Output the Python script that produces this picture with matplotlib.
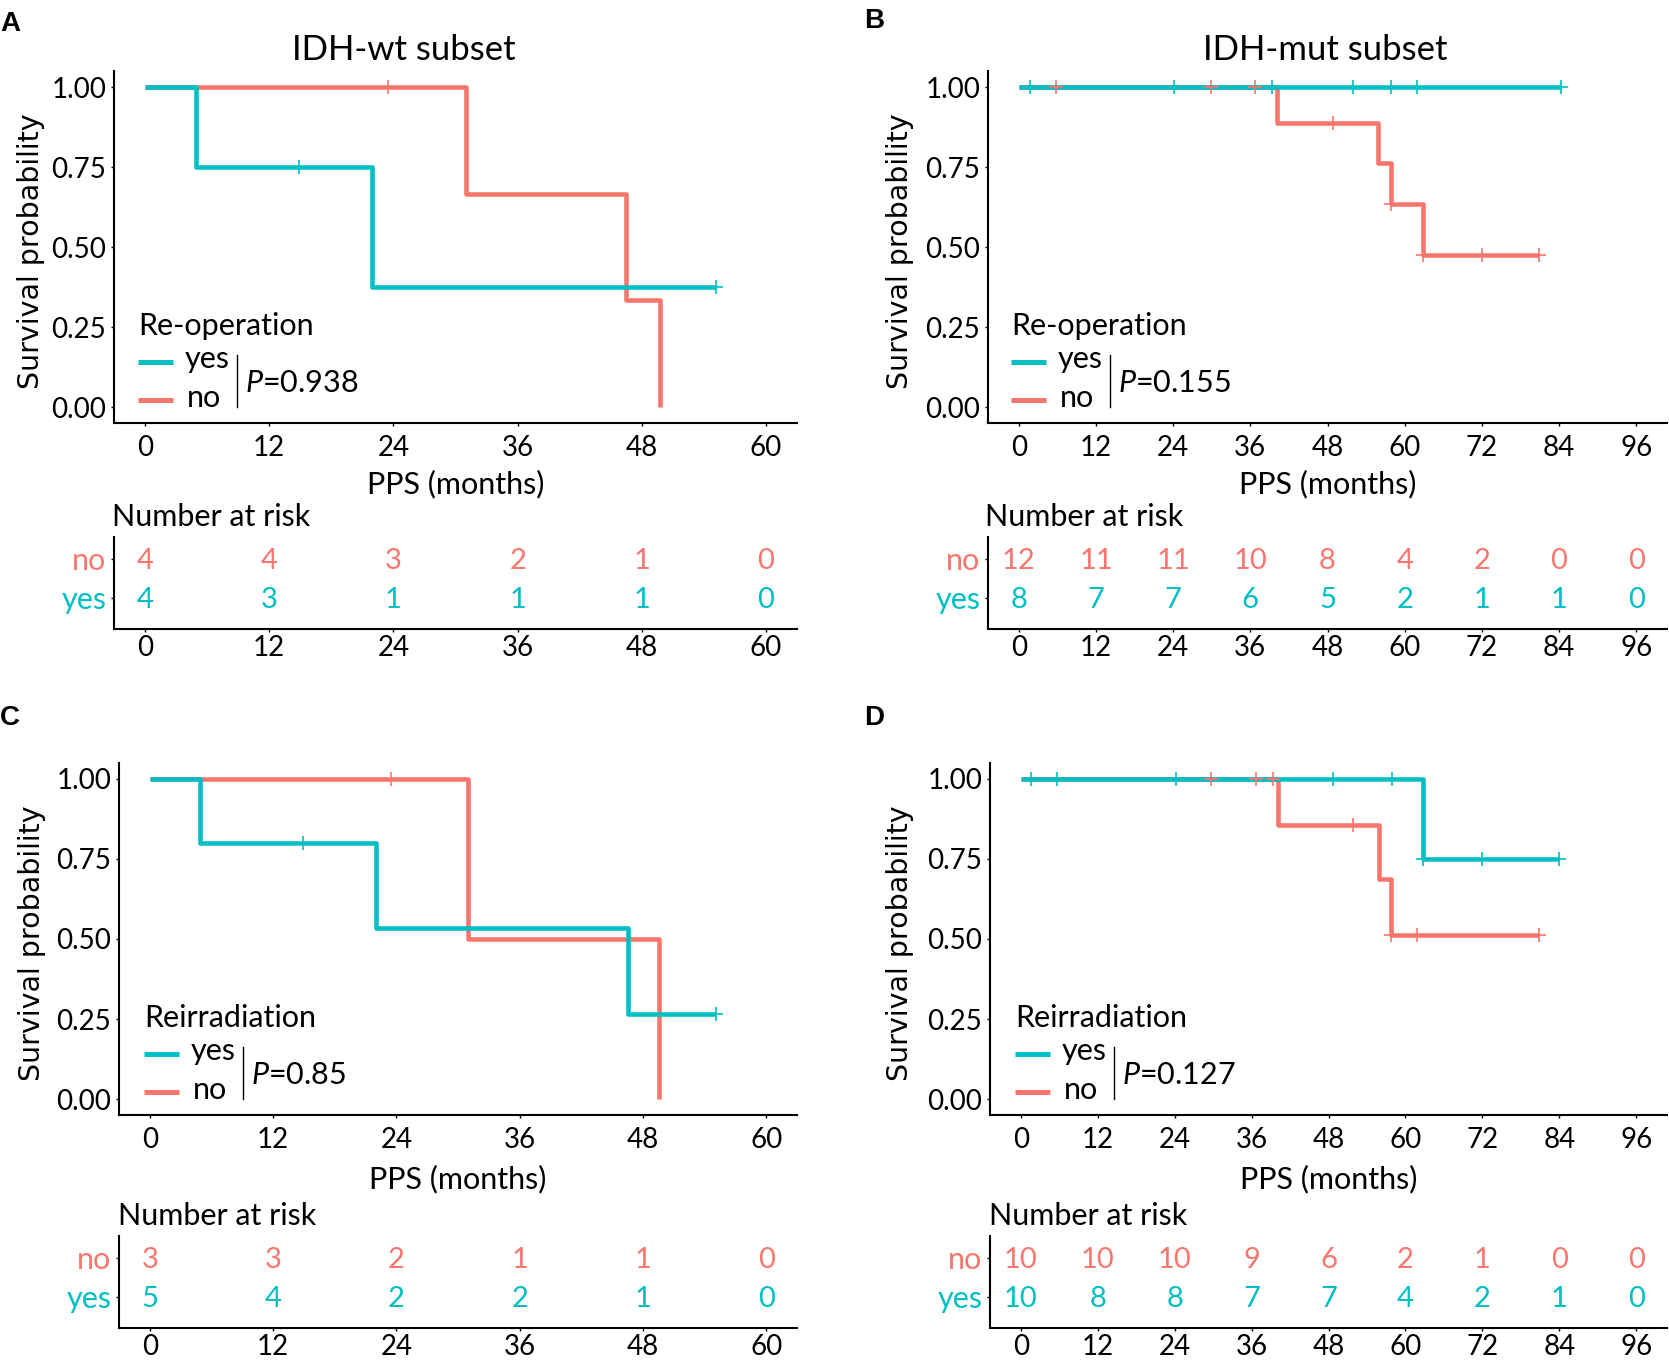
import matplotlib
matplotlib.use('Agg')
import matplotlib.pyplot as plt
from matplotlib.lines import Line2D
from matplotlib.transforms import ScaledTranslation

W, H = 1669, 1360
TEAL = '#00BFC4'
RED = '#F8766D'

plt.rcParams['font.family'] = ['Lato', 'DejaVu Sans']
plt.rcParams['mathtext.fontset'] = 'custom'
plt.rcParams['mathtext.it'] = 'Lato:italic'
plt.rcParams['mathtext.rm'] = 'Lato'

# ---- data (months, survival probability) ----
# A: IDH-wt, re-operation
a_yes_t = [0, 4.9, 21.9, 55.2]
a_yes_s = [1.0, 0.75, 0.375, 0.375]
a_yes_ct = [14.9, 55.2]
a_yes_cs = [0.75, 0.375]
a_no_t = [0, 31.0, 46.5, 49.8]
a_no_s = [1.0, 0.667, 0.333, 0.0]
a_no_ct = [23.5]
a_no_cs = [1.0]
a_risk_no = [4, 4, 3, 2, 1, 0]
a_risk_yes = [4, 3, 1, 1, 1, 0]

# B: IDH-mut, re-operation
b_yes_t = [0, 84.3]
b_yes_s = [1.0, 1.0]
b_yes_ct = [1.7, 24.2, 39.3, 52.0, 57.9, 61.9, 84.3]
b_yes_cs = [1.0, 1.0, 1.0, 1.0, 1.0, 1.0, 1.0]
b_no_t = [0, 40.2, 55.8, 57.9, 62.8, 80.9]
b_no_s = [1.0, 0.889, 0.762, 0.635, 0.476, 0.476]
b_no_ct = [5.7, 29.9, 36.7, 48.8, 57.9, 62.8, 72.0, 80.9]
b_no_cs = [1.0, 1.0, 1.0, 0.889, 0.635, 0.476, 0.476, 0.476]
b_risk_no = [12, 11, 11, 10, 8, 4, 2, 0, 0]
b_risk_yes = [8, 7, 7, 6, 5, 2, 1, 1, 0]

# C: IDH-wt, reirradiation
c_yes_t = [0, 4.9, 22.0, 46.5, 55.1]
c_yes_s = [1.0, 0.8, 0.533, 0.267, 0.267]
c_yes_ct = [14.9, 55.1]
c_yes_cs = [0.8, 0.267]
c_no_t = [0, 31.0, 49.6]
c_no_s = [1.0, 0.5, 0.0]
c_no_ct = [23.5]
c_no_cs = [1.0]
c_risk_no = [3, 3, 2, 1, 1, 0]
c_risk_yes = [5, 4, 2, 2, 1, 0]

# D: IDH-mut, reirradiation
d_yes_t = [0, 62.8, 84.0]
d_yes_s = [1.0, 0.75, 0.75]
d_yes_ct = [1.6, 5.6, 24.2, 48.7, 57.9, 62.8, 71.9, 84.0]
d_yes_cs = [1.0, 1.0, 1.0, 1.0, 1.0, 0.75, 0.75, 0.75]
d_no_t = [0, 40.2, 55.9, 57.7, 80.8]
d_no_s = [1.0, 0.857, 0.686, 0.514, 0.514]
d_no_ct = [29.6, 36.7, 39.3, 51.8, 57.7, 61.8, 80.8]
d_no_cs = [1.0, 1.0, 1.0, 0.857, 0.514, 0.514, 0.514]
d_risk_no = [10, 10, 10, 9, 6, 2, 1, 0, 0]
d_risk_yes = [10, 8, 8, 7, 7, 4, 2, 1, 0]

y_ticks = [0, 0.25, 0.5, 0.75, 1.0]
y_labels = ['0.00', '0.25', '0.50', '0.75', '1.00']


def rect(l, t, r, b):
    return [l / W, 1 - b / H, (r - l) / W, (b - t) / H]


def fx(x):
    return x / W


def fy(y):
    return 1 - y / H


fig = plt.figure(figsize=(W / 100, H / 100), dpi=100)


def style_axis(ax, pad):
    for s in ['top', 'right']:
        ax.spines[s].set_visible(False)
    for s in ['left', 'bottom']:
        ax.spines[s].set_linewidth(1.5)
    ax.tick_params(axis='both', length=2.5, width=1, labelsize=20, colors='black')
    ax.tick_params(axis='x', pad=pad)
    ax.tick_params(axis='y', pad=3)


def panel(letter, letter_xy, dx, dy, dtab, left, right, xmax, title, title_x,
          ylab_x, group, pval, yes, no, risk_no, risk_yes):
    top, bottom = 71 + dy, 423 + dy
    ax = fig.add_axes(rect(left, top, right, bottom))
    ax.plot(no[0], no[1], drawstyle='steps-post', color=RED, lw=3.3, solid_capstyle='butt')
    ax.plot(yes[0], yes[1], drawstyle='steps-post', color=TEAL, lw=3.3, solid_capstyle='butt')
    ax.plot(no[2], no[3], ls='none', marker='+', ms=10, mew=1.2, color=RED)
    ax.plot(yes[2], yes[3], ls='none', marker='+', ms=10, mew=1.2, color=TEAL)
    ax.set_xlim(-0.05 * xmax, 1.05 * xmax)
    ax.set_ylim(-0.05, 1.05)
    ax.set_xticks(range(0, xmax + 1, 12))
    ax.set_yticks(y_ticks)
    ax.set_yticklabels(y_labels)
    style_axis(ax, 6)

    # risk table
    tab = fig.add_axes(rect(left, 537 + dtab, right, 629 + dtab))
    tab.set_xlim(-0.05 * xmax, 1.05 * xmax)
    tab.set_ylim(0.205, 2.564)
    times = list(range(0, xmax + 1, 12))
    tab.set_xticks(times)
    tab.set_yticks([2, 1])
    tab.set_yticklabels(['no', 'yes'])
    style_axis(tab, 1.5)
    tab.tick_params(axis='y', labelsize=22, pad=3)
    for lab, c in zip(tab.get_yticklabels(), [RED, TEAL]):
        lab.set_color(c)
    off = ScaledTranslation(0, -0.105, fig.dpi_scale_trans)
    for t, n in zip(times, risk_no):
        tab.text(t, 2, str(n), color=RED, fontsize=21, ha='center', va='baseline',
                 transform=tab.transData + off)
    for t, n in zip(times, risk_yes):
        tab.text(t, 1, str(n), color=TEAL, fontsize=21, ha='center', va='baseline',
                 transform=tab.transData + off)
    fig.text(fx(112 + dx), fy(526 + dtab), 'Number at risk', fontsize=22, va='baseline')

    # labels
    fig.text(fx((left + right) / 2), fy(484 + (dtab + dy) / 2), 'PPS (months)',
             fontsize=22, ha='center', va='center')
    fig.text(fx(ylab_x), fy((top + bottom) / 2 + 4), 'Survival probability',
             family='DejaVu Sans', fontsize=20.5, rotation=90, ha='center', va='center')
    if title:
        fig.text(fx(title_x), fy(60), title, fontsize=25, ha='center', va='baseline')
    fig.text(fx(letter_xy[0]), fy(letter_xy[1]), letter, family='Liberation Sans',
             fontweight='bold', fontsize=20, va='baseline')

    # legend with log-rank p value
    fig.text(fx(138 + dx), fy(335 + dy), group, fontsize=22, va='baseline')
    fig.add_artist(Line2D([fx(138 + dx), fx(173 + dx)], [fy(362 + dy)] * 2,
                          color=TEAL, lw=3.6, solid_capstyle='butt'))
    fig.add_artist(Line2D([fx(138 + dx), fx(173 + dx)], [fy(400 + dy)] * 2,
                          color=RED, lw=3.6, solid_capstyle='butt'))
    fig.text(fx(185 + dx), fy(368 + dy), 'yes', fontsize=22, va='baseline')
    fig.text(fx(187 + dx), fy(407 + dy), 'no', fontsize=22, va='baseline')
    fig.add_artist(Line2D([fx(237 + dx)] * 2, [fy(355 + dy), fy(407 + dy)],
                          color='black', lw=1.0))
    fig.text(fx(245 + dx), fy(392 + dy), r'$\it{P}$' + '=' + pval, fontsize=22,
             va='baseline')


panel('A', (0, 31), 0, 0, 0, 114, 797, 60, 'IDH-wt subset', 404, 31,
      'Re-operation', '0.938',
      (a_yes_t, a_yes_s, a_yes_ct, a_yes_cs), (a_no_t, a_no_s, a_no_ct, a_no_cs),
      a_risk_no, a_risk_yes)
panel('B', (864, 28), 873, 0, 0, 988, 1667, 96, 'IDH-mut subset', 1325, 900,
      'Re-operation', '0.155',
      (b_yes_t, b_yes_s, b_yes_ct, b_yes_cs), (b_no_t, b_no_s, b_no_ct, b_no_cs),
      b_risk_no, b_risk_yes)
panel('C', (0, 725), 6, 692, 699, 119, 797, 60, None, 0, 32,
      'Reirradiation', '0.85',
      (c_yes_t, c_yes_s, c_yes_ct, c_yes_cs), (c_no_t, c_no_s, c_no_ct, c_no_cs),
      c_risk_no, c_risk_yes)
panel('D', (864, 725), 877, 692, 699, 990, 1667, 96, None, 0, 900,
      'Reirradiation', '0.127',
      (d_yes_t, d_yes_s, d_yes_ct, d_yes_cs), (d_no_t, d_no_s, d_no_ct, d_no_cs),
      d_risk_no, d_risk_yes)

fig.savefig('out.png', dpi=100)
